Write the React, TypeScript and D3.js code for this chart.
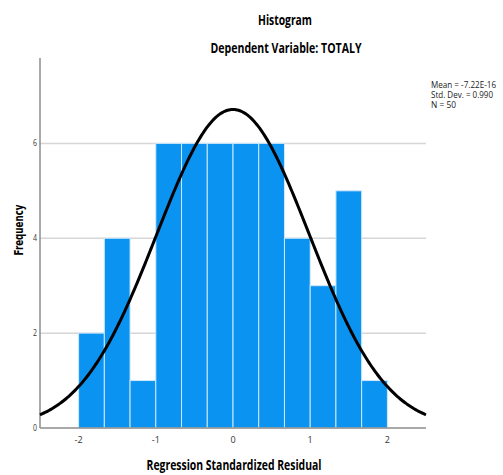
import React, { useRef, useEffect } from "react"
import * as d3 from "d3"

// histogram bins (1/3 unit wide, from -2 to 2)
const binStarts = [-2, -5 / 3, -4 / 3, -1, -2 / 3, -1 / 3, 0, 1 / 3, 2 / 3, 1, 4 / 3, 5 / 3]
const counts = [2, 4, 1, 6, 6, 6, 6, 6, 4, 3, 5, 1]
const binWidth = 1 / 3
const xTicks = [-2, -1, 0, 1, 2]
const yTicks = [0, 2, 4, 6]
const stats = ["Mean = -7.22E-16", "Std. Dev. = 0.990", "N = 50"]
const statWidths = [65, 62, 25]
const mean = -7.22e-16
const sd = 0.99
const n = 50

const App = () => {
    const element = useRef<SVGSVGElement>(null)

    useEffect(() => {
        const svg = d3.select(element.current)
        svg.selectAll("*").remove()

        const x = d3.scaleLinear().domain([-2.5, 2.5]).range([40, 426])
        const y = d3.scaleLinear().domain([0, 7.8]).range([428, 58])
        const font = "'Open Sans', 'DejaVu Sans', sans-serif"

        // gridlines
        svg.append("g")
            .selectAll("line")
            .data(yTicks.filter(d => d > 0))
            .enter()
            .append("line")
              .attr("x1", x(-2.5))
              .attr("x2", x(2.5))
              .attr("y1", d => y(d))
              .attr("y2", d => y(d))
              .attr("stroke", "#d6d6d6")
              .attr("stroke-width", 1.5)

        // bars
        svg.append("g")
            .selectAll("rect")
            .data(counts)
            .enter()
            .append("rect")
              .attr("x", (d, i) => x(binStarts[i]))
              .attr("y", d => y(d))
              .attr("width", x(binWidth) - x(0))
              .attr("height", d => y(0) - y(d))
              .attr("fill", "#0a93f1")
              .attr("stroke", "#cfe8fb")
              .attr("stroke-width", 1)

        // axes
        svg.append("line")
            .attr("x1", x(-2.5)).attr("x2", x(-2.5))
            .attr("y1", y(7.8)).attr("y2", y(0))
            .attr("stroke", "#8c8c8c").attr("stroke-width", 1.5)
        svg.append("line")
            .attr("x1", x(-2.5)).attr("x2", x(2.5))
            .attr("y1", y(0)).attr("y2", y(0))
            .attr("stroke", "#8c8c8c").attr("stroke-width", 1.5)

        svg.append("g")
            .selectAll("text")
            .data(yTicks)
            .enter()
            .append("text")
              .attr("x", 35)
              .attr("y", d => y(d) + 3)
              .attr("text-anchor", "middle")
              .attr("font-family", font)
              .attr("font-size", 9)
              .attr("fill", "#333")
              .attr("textLength", 4)
              .attr("lengthAdjust", "spacingAndGlyphs")
              .text(d => d)

        svg.append("g")
            .selectAll("text")
            .data(xTicks)
            .enter()
            .append("text")
              .attr("x", d => x(d))
              .attr("y", 443)
              .attr("text-anchor", "middle")
              .attr("font-family", font)
              .attr("font-size", 9)
              .attr("fill", "#333")
              .text(d => (d < 0 ? "-" + Math.abs(d) : d))

        // normal curve
        const pts = d3.range(-2.5, 2.5001, 0.02)
        const scale = n * binWidth / (sd * Math.sqrt(2 * Math.PI))
        const line = d3.line<number>()
            .x(d => x(d))
            .y(d => y(scale * Math.exp(-0.5 * ((d - mean) / sd) ** 2)))
            .curve(d3.curveBasis)
        svg.append("path")
            .attr("d", line(pts))
            .attr("fill", "none")
            .attr("stroke", "#000")
            .attr("stroke-width", 3)

        // titles
        svg.append("text")
            .attr("x", 285).attr("y", 25)
            .attr("text-anchor", "middle")
            .attr("font-family", font)
            .attr("font-weight", "bold")
            .attr("font-size", 14)
            .attr("textLength", 54)
            .attr("lengthAdjust", "spacingAndGlyphs")
            .text("Histogram")
        svg.append("text")
            .attr("x", 286).attr("y", 53)
            .attr("text-anchor", "middle")
            .attr("font-family", font)
            .attr("font-weight", "bold")
            .attr("font-size", 14)
            .attr("textLength", 151)
            .attr("lengthAdjust", "spacingAndGlyphs")
            .text("Dependent Variable: TOTALY")

        // stats box
        svg.append("g")
            .selectAll("text")
            .data(stats)
            .enter()
            .append("text")
              .attr("x", 431)
              .attr("y", (d, i) => 88 + i * 10)
              .attr("font-family", font)
              .attr("font-size", 8.5)
              .attr("fill", "#222")
              .attr("textLength", (d, i) => statWidths[i])
              .attr("lengthAdjust", "spacingAndGlyphs")
              .text(d => d)

        svg.append("text")
            .attr("transform", "translate(23,230) rotate(-90)")
            .attr("text-anchor", "middle")
            .attr("font-family", "'DejaVu Sans', sans-serif")
            .attr("font-weight", "bold")
            .attr("font-size", 12)
            .attr("textLength", 51)
            .attr("lengthAdjust", "spacingAndGlyphs")
            .text("Frequency")

        svg.append("text")
            .attr("x", 234).attr("y", 470)
            .attr("text-anchor", "middle")
            .attr("font-family", font)
            .attr("font-weight", "bold")
            .attr("font-size", 14)
            .attr("textLength", 175)
            .attr("lengthAdjust", "spacingAndGlyphs")
            .text("Regression Standardized Residual")
    }, [])

    return (
        <svg ref={element} width={503} height={475}
            style={{ position: "absolute", left: 0, top: 0, background: "#fff" }} />
    )
}

export default App
